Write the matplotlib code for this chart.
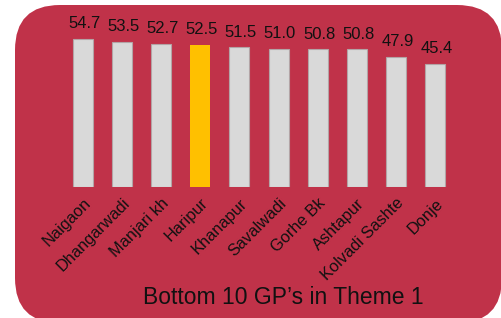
import matplotlib
matplotlib.use("Agg")
import matplotlib.pyplot as plt
from matplotlib.patches import FancyBboxPatch

plt.rcParams['font.family'] = ['Liberation Sans', 'DejaVu Sans']

# data
villages = ['Naigaon', 'Dhangarwadi', 'Manjari kh', 'Haripur', 'Khanapur',
            'Savalwadi', 'Gorhe Bk', 'Ashtapur', 'Kolvadi Sashte', 'Donje']
scores = [54.7, 53.5, 52.7, 52.5, 51.5, 51.0, 50.8, 50.8, 47.9, 45.4]
highlight = 'Haripur'
title = "Bottom 10 GP\u2019s in Theme 1"

BG = '#C03249'
BAR = '#D9D9D9'
GOLD = '#FFC000'

fig = plt.figure(figsize=(5.02, 3.18), dpi=100)
fig.patch.set_facecolor('white')

# rounded red panel (in inches so the corners stay round)
panel = FancyBboxPatch((0.15, -0.05), 4.87, 3.18,
                       boxstyle='round,pad=0,rounding_size=0.45',
                       transform=fig.dpi_scale_trans,
                       facecolor=BG, edgecolor='none', zorder=-10)
fig.patches.append(panel)

ax = fig.add_axes([0.1185, 0.411, 0.795, 0.53])
ax.set_facecolor('none')
ax.set_zorder(1)

x = list(range(len(villages)))
colors = [GOLD if v == highlight else BAR for v in villages]
edges = ['none' if v == highlight else '#B3A4A6' for v in villages]
bars = ax.bar(x, scores, width=0.51, color=colors, edgecolor=edges, linewidth=0.8)

for b, s in zip(bars, scores):
    ax.annotate('{:.1f}'.format(s), (b.get_x() + b.get_width() / 2, b.get_height()),
                xytext=(1, 5.5), textcoords='offset points',
                ha='center', va='bottom', fontsize=12, color='#111111')

ax.set_xlim(-0.6, 9.6)
ax.set_ylim(0, 62)
ax.set_xticks(x)
ax.set_xticklabels(villages, rotation=45, ha='right', va='top',
                   rotation_mode='anchor', fontsize=11.8, color='#111111')
ax.tick_params(axis='x', length=0, pad=6)
ax.set_yticks([])
for sp in ax.spines.values():
    sp.set_visible(False)

fig.text(0.564, 0.065, title, ha='center', va='center', fontsize=16.5, color='#111111')

fig.savefig('out.png', dpi=100, facecolor='white')
